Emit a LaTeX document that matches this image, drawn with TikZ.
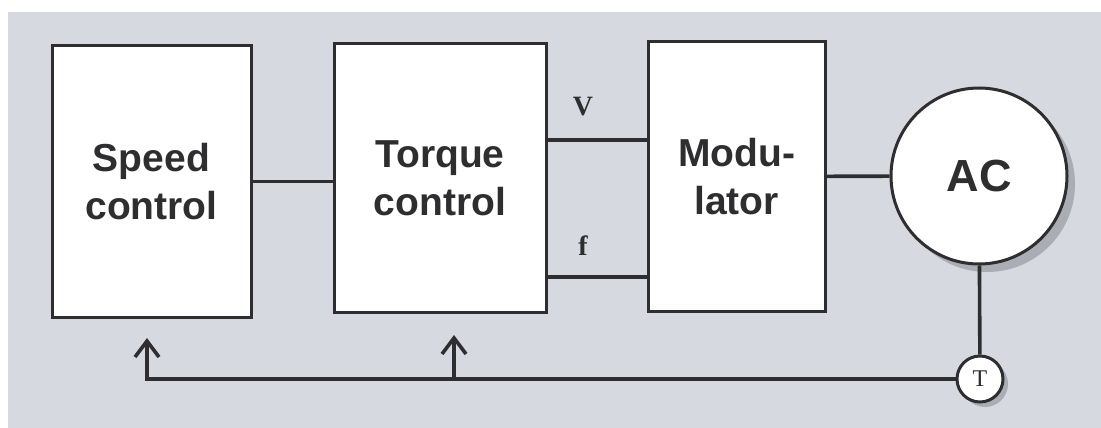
\documentclass[tikz,border=0pt]{standalone}
\usepackage{fontspec}
\setmainfont{Liberation Serif}
\setsansfont{Liberation Sans}
\usetikzlibrary{arrows.meta,shadows}
\definecolor{panel}{RGB}{214,218,224}
\definecolor{ink}{RGB}{46,46,48}
\definecolor{shade}{RGB}{170,174,180}

\begin{document}
\begin{tikzpicture}[x=1pt, y=-1pt, color=ink]
\tikzstyle{block} = [rectangle, draw=ink, line width=3pt, fill=white, align=center, inner sep=0pt, font=\sffamily\bfseries\fontsize{39}{48}\selectfont]
\tikzstyle{motor} = [circle, draw=ink, line width=3pt, fill=white, inner sep=0pt]
\tikzstyle{wire} = [draw=ink, line width=3.6pt]
\tikzstyle{arrow} = [wire, -{Straight Barb[length=16pt, width=24pt]}]
\tikzstyle{sig} = [inner sep=0pt, font=\rmfamily\bfseries\fontsize{28}{30}\selectfont]

\fill[white] (0,0) rectangle (1101,428);
\fill[panel] (8,12) rectangle (1101,428);
\useasboundingbox (0,0) rectangle (1101,428);

\node [block, minimum width=199pt, minimum height=271pt] (speed) at (151.5,181.5) {Speed\\control};
\node [block, minimum width=212pt, minimum height=268pt] (torque) at (440,178) {Torque\\control};
\node [block, minimum width=177pt, minimum height=269pt] (mod) at (736.5,176.5) {Modu-\\lator};
\node [motor, minimum size=176pt, drop shadow={shadow xshift=8pt, shadow yshift=-8pt, fill=shade, opacity=1}, font=\sffamily\bfseries\fontsize{45}{50}\selectfont] (ac) at (979,176) {AC};
\node [motor, minimum size=46pt, drop shadow={shadow xshift=5pt, shadow yshift=-5pt, fill=shade, opacity=1}, font=\rmfamily\fontsize{24}{26}\selectfont] (tach) at (980,379) {T};

\node [sig] (vlab) at (583,107) {V};
\node [sig] (flab) at (583,246) {f};

\draw [wire] (speed.east) -- (speed.east -| torque.west);
\draw [wire] (torque.east |- 0,140) -- (mod.west |- 0,140);
\draw [wire] (torque.east |- 0,277) -- (mod.west |- 0,277);
\draw [wire] (mod) -- (ac);
\draw [wire] (ac) -- (tach);

% feedback from the tacho
\coordinate (spdfb) at (147,379);
\coordinate (spdin) at (147,338);
\coordinate (trqfb) at (454,379);
\coordinate (trqin) at (454,335);
\draw [arrow] (tach) -- (spdfb) -- (spdin);
\draw [arrow] (trqfb) -- (trqin);

\end{tikzpicture}
\end{document}
